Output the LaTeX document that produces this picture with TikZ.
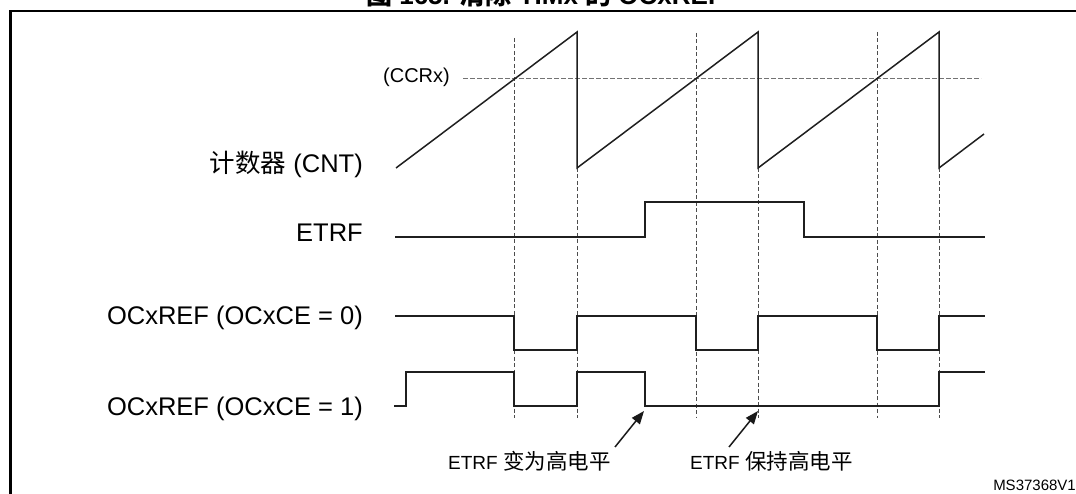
\documentclass[tikz,border=0pt]{standalone}
\usepackage{fontspec}
\setmainfont{Liberation Sans}
\newfontfamily\cjk{Noto Sans CJK SC}
\usetikzlibrary{arrows.meta}
\newcommand{\cjkbig}[1]{{\fontsize{21.5}{25}\selectfont\cjk #1}}
\begin{document}
\begin{tikzpicture}[x=1pt,y=-1pt,
  sig/.style={line width=1.5pt, draw=black!88, line join=miter},
  guide/.style={line width=0.9pt, draw=black!70, dash pattern=on 4pt off 2.5pt},
  ccr/.style={line width=0.9pt, draw=black!55, dash pattern=on 5pt off 2pt},
  lbl/.style={anchor=base east, inner sep=0pt, font=\fontsize{25.5}{30}\selectfont},
  anno/.style={anchor=base west, inner sep=0pt, font=\fontsize{19}{23}\selectfont},
  pointer/.style={line width=1.5pt, draw=black!90, -{Triangle[length=13pt,width=10pt]}}]
\useasboundingbox (0,0) rectangle (1076,494);
% title (cut off at top, as in the reference)
\node[anchor=base, inner sep=0pt, font=\bfseries\fontsize{26}{30}\selectfont] (title) at (545,4.5)
  {{\cjk 图} 165. {\cjk 清除} TIMx {\cjk 的} OCxREF};
% frame
\draw[line width=2.6pt] (10.3,11) rectangle (1100,520);
% guides
\foreach \x/\t in {514/38, 696/33, 877/32} \draw[guide] (\x,\t) -- (\x,418);
\foreach \x in {577,758,939} \draw[guide] (\x,168) -- (\x,418);
% CCRx
\draw[ccr] (463,78) -- (981,78);
\node[anchor=base east, inner sep=0pt, font=\fontsize{20}{24}\selectfont] (ccrx) at (450,83) {(CCRx)};
% counter
\draw[sig] (396,168) -- (577,32) -- (577,168) -- (758,32) -- (758,168) -- (939,32) -- (939,168) -- (984,134);
% ETRF
\draw[sig] (395,237) -- (645,237) -- (645,202) -- (804,202) -- (804,237) -- (985,237);
% OCxREF (OCxCE=0)
\draw[sig] (395,316) -- (514,316) -- (514,350) -- (577,350) -- (577,316) -- (696,316) -- (696,350)
  -- (758,350) -- (758,316) -- (877,316) -- (877,350) -- (939,350) -- (939,316) -- (985,316);
% OCxREF (OCxCE=1)
\draw[sig] (394,406) -- (406,406) -- (406,372) -- (514,372) -- (514,406) -- (577,406) -- (577,372)
  -- (645,372) -- (645,406) -- (939,406) -- (939,372) -- (985,372);
% labels
\node[lbl] (cnt) at (363,173) {{\cjk 计数器} (CNT)};
\node[lbl] (etrf) at (363,242) {ETRF};
\node[lbl] (oc0) at (363,324.5) {OCxREF (OCxCE = 0)};
\node[lbl] (oc1) at (363,415) {OCxREF (OCxCE = 1)};
% annotations
\node[anno] (n1) at (448,469) {ETRF \cjkbig{变为高电平}};
\node[anno] (n2) at (690,469) {ETRF \cjkbig{保持高电平}};
\coordinate (a1s) at (615,447);
\coordinate (a1e) at (644,411);
\coordinate (a2s) at (729,447);
\coordinate (a2e) at (758,411);
\draw[pointer] (a1s) -- (a1e);
\draw[pointer] (a2s) -- (a2e);
% id
\node[anchor=base east, inner sep=0pt, font=\fontsize{15}{18}\selectfont] (ms) at (1076,490) {MS37368V1};
\end{tikzpicture}
\end{document}
